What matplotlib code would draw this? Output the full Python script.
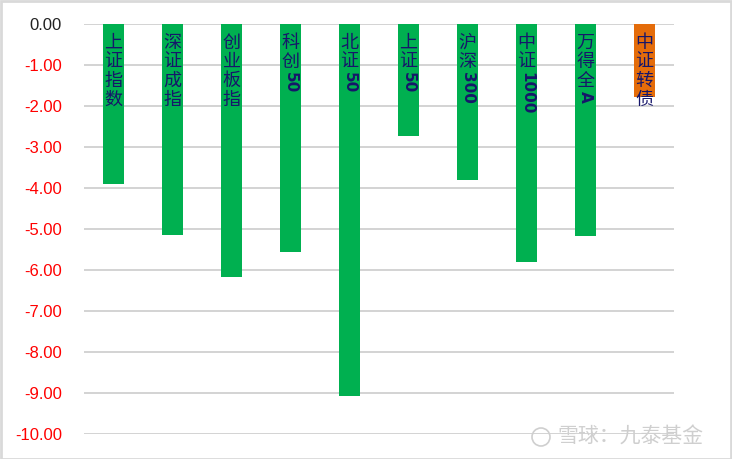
import matplotlib.pyplot as plt
from matplotlib.patches import Rectangle, Circle

# data
labels = ['上证指数', '深证成指', '创业板指', '科创50', '北证50',
          '上证50', '沪深300', '中证1000', '万得全A', '中证转债']
values = [-3.90, -5.15, -6.18, -5.56, -9.07, -2.72, -3.80, -5.80, -5.17, -1.79]
colors = ['#00B050'] * 9 + ['#E46C0A']
yticks = [0, -1, -2, -3, -4, -5, -6, -7, -8, -9, -10]

CJK = ['Noto Sans CJK SC', 'DejaVu Sans']
NAVY = '#16166A'

fig = plt.figure(figsize=(7.32, 4.59), dpi=100)
ax = fig.add_axes([84 / 732, 1 - 434 / 459, 590 / 732, 410 / 459])

x = range(len(labels))
ax.bar(x, values, width=0.34, color=colors, zorder=2)

ax.set_xlim(-0.5, 9.5)
ax.set_ylim(-10, 0)
ax.set_yticks(yticks)
ax.set_yticklabels(['%.2f' % v for v in yticks], family='Liberation Sans', fontsize=12)
for t, v in zip(ax.get_yticklabels(), yticks):
    t.set_color('#222222' if v == 0 else '#FF0000')
ax.set_xticks([])
ax.tick_params(axis='y', length=0, pad=16)
ax.yaxis.grid(True, color='#D0D0D0', linewidth=1.3, zorder=0)
ax.set_axisbelow(True)
for s in ax.spines.values():
    s.set_visible(False)

# vertical labels inside bars: CJK upright, latin runs rotated
px = 0.72  # points per pixel at 100 dpi
for i, lab in enumerate(labels):
    off = 10
    runs = []
    for ch in lab:
        if ord(ch) < 128:
            if runs and runs[-1][1]:
                runs[-1][0] += ch
            else:
                runs.append([ch, True])
        else:
            runs.append([ch, False])
    for txt, latin in runs:
        if latin:
            ax.annotate(txt, xy=(i, 0), xytext=(0, -off * px), textcoords='offset points',
                        ha='center', va='top', rotation=-90, fontsize=11,
                        fontweight='bold', color=NAVY, family='DejaVu Sans', zorder=3)
            off += len(txt) * 9 + 2
        else:
            ax.annotate(txt, xy=(i, 0), xytext=(0, -off * px), textcoords='offset points',
                        ha='center', va='top', fontsize=13, color=NAVY,
                        family=CJK, zorder=3)
            off += 19

# watermark
fig.text(557 / 732, 1 - 437 / 459, '雪球：九泰基金', family=CJK, fontsize=15,
         color='#CFCFCF', ha='left', va='center')
fig.patches.append(Circle((5.41, 0.22), 0.09, transform=fig.dpi_scale_trans,
                          fill=False, edgecolor='#CFCFCF', linewidth=1.2))

# light frame round the figure
fig.patches.append(Rectangle((0.001, 0.001), 0.997, 0.997, transform=fig.transFigure,
                             fill=False, edgecolor='#D9D9D9', linewidth=2))

fig.savefig('out.png', dpi=100)
